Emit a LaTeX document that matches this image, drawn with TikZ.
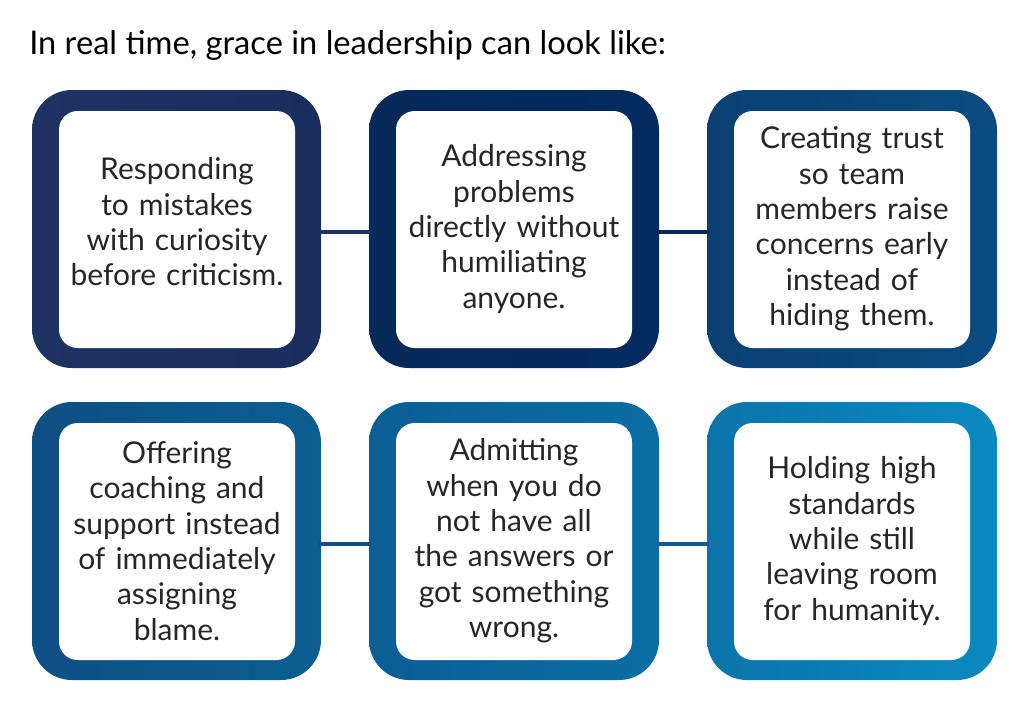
\documentclass[tikz,border=0pt]{standalone}
\usepackage{fontspec}
\setmainfont{Lato}
\definecolor{cA}{HTML}{1E3263}
\definecolor{cAb}{HTML}{1A2E5E}
\definecolor{cB}{HTML}{06295A}
\definecolor{cBb}{HTML}{032B5E}
\definecolor{cC}{HTML}{0B3F72}
\definecolor{cCb}{HTML}{094C80}
\definecolor{cD}{HTML}{0D4F82}
\definecolor{cDb}{HTML}{0B5E92}
\definecolor{cE}{HTML}{0A5E94}
\definecolor{cEb}{HTML}{0A6EA5}
\definecolor{cF}{HTML}{0A74AA}
\definecolor{cFb}{HTML}{0A8AC0}
\tikzset{
 txt/.style={align=center,font=\fontsize{22.5}{26.5}\selectfont,text=black!85,text width=180pt},
}
\begin{document}
\begin{tikzpicture}[x=0.75pt,y=-0.75pt]
\useasboundingbox (0,0) rectangle (1024,718);
\node[anchor=west,font=\fontsize{24.5}{28}\selectfont,inner sep=0pt] (title) at (29,45) {In real time, grace in leadership can look like:};
\shade[left color=cA,right color=cAb,rounded corners=30pt] (32,90) rectangle (321,368);
\shade[left color=cB,right color=cBb,rounded corners=30pt] (369,90) rectangle (659,368);
\shade[left color=cC,right color=cCb,rounded corners=30pt] (707,90) rectangle (997,368);
\shade[left color=cD,right color=cDb,rounded corners=30pt] (32,402) rectangle (321,680);
\shade[left color=cE,right color=cEb,rounded corners=30pt] (369,402) rectangle (659,680);
\shade[left color=cF,right color=cFb,rounded corners=30pt] (707,402) rectangle (997,680);
\foreach \x/\y in {59/111,396/111,734/111,59/423,396/423,734/423}
  \fill[white,rounded corners=14pt] (\x,\y) rectangle ++(236,237);
\fill[cA] (319,230) rectangle (371,234);
\fill[cB] (657,230) rectangle (709,234);
\fill[cD] (319,542) rectangle (371,546);
\fill[cE] (657,542) rectangle (709,546);
\node[txt] (t1) at (177,222) {Responding\\to mistakes\\with curiosity\\before criticism.};
\node[txt] (t2) at (514,229) {Addressing\\problems\\directly without\\humiliating\\anyone.};
\node[txt] (t3) at (852,229) {Creating trust\\so team\\members raise\\concerns early\\instead of\\hiding them.};
\node[txt] (t4) at (177,541) {Offering\\coaching and\\support instead\\of immediately\\assigning\\blame.};
\node[txt] (t5) at (514,541) {Admitting\\when you do\\not have all\\the answers or\\got something\\wrong.};
\node[txt] (t6) at (852,541) {Holding high\\standards\\while still\\leaving room\\for humanity.};
\end{tikzpicture}
\end{document}
